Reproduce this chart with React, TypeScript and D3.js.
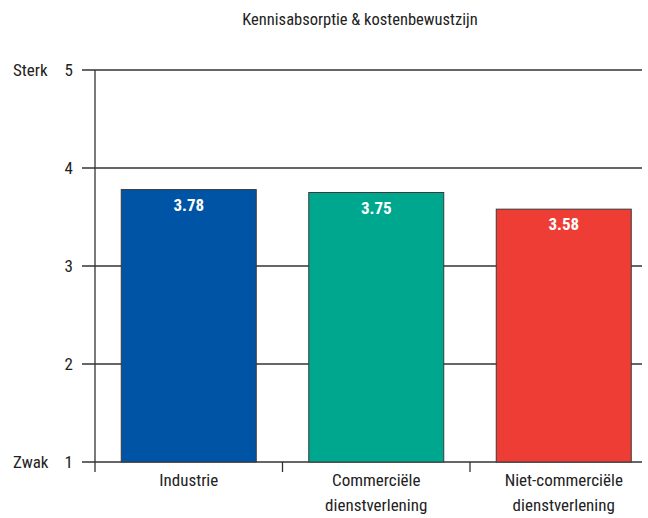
import React from "react";
import * as d3 from "d3";

const title = "Kennisabsorptie & kostenbewustzijn";
const categories = ["Industrie", "Commerciële|dienstverlening", "Niet-commerciële|dienstverlening"];
const values = [3.78, 3.75, 3.58];
const colors = ["#0054A5", "#00A78F", "#EE3D35"];
const yTicks = [1, 2, 3, 4, 5];
const yEndLabels: [number, string][] = [[5, "Sterk"], [1, "Zwak"]];

const W = 648, H = 518;
const FONT = "'Liberation Sans Narrow', 'Roboto Condensed', 'DejaVu Sans Condensed', sans-serif";

export default function App() {
  const x = d3.scaleBand<string>().domain(categories).range([95, 657.5]).paddingInner(0.28).paddingOuter(0.14);
  const y = d3.scaleLinear().domain([1, 5]).range([462, 70]);
  const lineEnd = 642;
  const stroke = "#333";
  const bandStep = x.step();
  return (
    <svg width={W} height={H} style={{ position: "absolute", left: 0, top: 0, background: "#fff" }} fontFamily={FONT}>
      <text x={360} y={25} textAnchor="middle" fontSize={16.5} fill="#222">{title}</text>
      {yTicks.map((t) => (
        <g key={t}>
          <line x1={82} x2={lineEnd} y1={y(t)} y2={y(t)} stroke={stroke} strokeWidth={1.3} />
          <text x={73} y={y(t) + 6} textAnchor="end" fontSize={17} fill="#222">{t}</text>
        </g>
      ))}
      {yEndLabels.map(([v, l]) => (
        <text key={l} x={13} y={y(v) + 6} fontSize={17} fill="#222">{l}</text>
      ))}
      <line x1={95} x2={95} y1={y(5)} y2={y(1) + 10} stroke={stroke} strokeWidth={1.3} />
      {categories.map((c, i) => (
        <line key={"t" + i} x1={95 + bandStep * (i + 1)} x2={95 + bandStep * (i + 1)} y1={y(1)} y2={y(1) + 10} stroke={stroke} strokeWidth={1.3} />
      ))}
      {categories.map((c, i) => (
        <g key={c}>
          <rect x={x(c)!} y={y(values[i])} width={x.bandwidth()} height={y(1) - y(values[i])} fill={colors[i]} stroke="#3a3a3a" strokeWidth={1} />
          <text x={x(c)! + x.bandwidth() / 2} y={y(values[i]) + 21} textAnchor="middle" fontSize={17} fontWeight="bold" fill="#fff">{values[i].toFixed(2)}</text>
          {c.split("|").map((line, j) => (
            <text key={j} x={x(c)! + x.bandwidth() / 2} y={486 + j * 25} textAnchor="middle" fontSize={17} fill="#222">{line}</text>
          ))}
        </g>
      ))}
    </svg>
  );
}
